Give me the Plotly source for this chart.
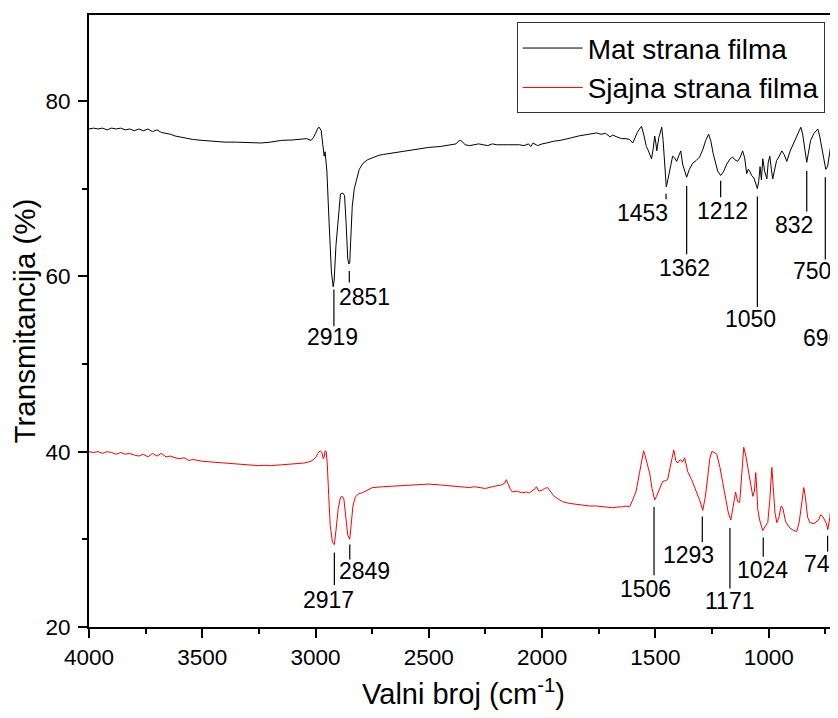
import plotly.graph_objects as go

# ---------------- data ----------------
mat_wn = [4000, 3980, 3960, 3940, 3920, 3900, 3880, 3860, 3840, 3820, 3800, 3780, 3760, 3740, 3720, 3700,
          3680, 3660, 3640, 3620, 3600, 3580, 3560, 3540, 3500, 3450, 3400, 3350, 3300, 3270, 3240, 3200,
          3150, 3100, 3060, 3040, 3020, 3010, 3000, 2990, 2984, 2975, 2968, 2962, 2958, 2955, 2950, 2940,
          2930, 2922, 2918, 2910, 2900, 2890, 2880, 2872, 2865, 2858, 2853, 2849, 2845, 2838, 2829, 2818,
          2807, 2790, 2770, 2750, 2720, 2700, 2650, 2600, 2550, 2500, 2450, 2400, 2380, 2370, 2360, 2350,
          2340, 2320, 2300, 2280, 2260, 2240, 2220, 2200, 2150, 2100, 2080, 2060, 2050, 2040, 2020, 2000,
          1980, 1950, 1920, 1900, 1870, 1840, 1810, 1790, 1770, 1760, 1740, 1720, 1700, 1689, 1670, 1650,
          1630, 1614, 1600, 1590, 1580, 1570, 1561, 1550, 1540, 1534, 1525, 1517, 1510, 1503, 1498, 1494,
          1485, 1478, 1472, 1466, 1458, 1452, 1445, 1437, 1430, 1424, 1415, 1406, 1396, 1388, 1380, 1372,
          1362, 1350, 1335, 1320, 1305, 1290, 1278, 1265, 1255, 1245, 1235, 1225, 1212, 1200, 1185, 1170,
          1159, 1150, 1137, 1125, 1115, 1106, 1097, 1090, 1084, 1075, 1065, 1058, 1050, 1044, 1038, 1032,
          1026, 1018, 1008, 1002, 995, 988, 982, 975, 965, 955, 942, 932, 920, 905, 890, 875,
          858, 850, 840, 832, 825, 815, 800, 783, 775, 765, 755, 748, 740, 730, 721, 714,
          708, 704, 700, 696, 694]
mat_t = [76.8, 76.9, 76.8, 76.9, 76.7, 76.9, 76.8, 76.9, 76.7, 76.8, 76.6, 76.8, 76.6, 76.8, 76.5, 76.7,
         76.4, 76.3, 76.2, 76.0, 75.9, 75.8, 75.7, 75.6, 75.5, 75.4, 75.3, 75.3, 75.25, 75.3, 75.2, 75.3,
         75.5, 75.55, 75.6, 75.7, 75.5, 75.8, 76.3, 76.9, 77.0, 76.6, 75.0, 73.7, 74.2, 73.5, 72.0, 66.0,
         60.5, 58.8, 59.5, 63.5, 67.0, 69.4, 69.5, 69.2, 66.0, 62.0, 61.4, 61.6, 64.0, 68.0, 70.0, 71.3,
         72.2, 72.9, 73.3, 73.5, 73.8, 73.9, 74.1, 74.3, 74.5, 74.7, 74.8, 75.0, 75.1, 75.4, 75.5, 75.3,
         75.0, 74.9, 75.0, 75.1, 75.0, 74.9, 75.1, 75.0, 75.0, 75.0, 74.9, 75.1, 74.8, 75.2, 74.9, 75.1,
         75.2, 75.4, 75.5, 75.6, 75.8, 76.0, 76.1, 76.2, 76.3, 76.35, 76.2, 76.3, 75.9, 76.1, 75.9, 75.7,
         75.7, 75.6, 75.2, 75.9, 76.4, 76.8, 77.1, 76.0, 74.8, 74.5, 74.0, 73.4, 74.5, 76.0, 75.2, 74.3,
         75.8, 76.6, 77.0, 75.5, 71.8, 70.2, 71.0, 72.2, 73.0, 73.7, 73.5, 73.1, 73.8, 74.3, 72.8, 72.0,
         71.3, 72.2, 72.9, 73.2, 73.6, 74.5, 75.5, 76.2, 75.4, 74.0, 72.8, 72.0, 71.5, 71.9, 72.8, 73.4,
         73.6, 73.3, 73.1, 73.6, 74.3, 73.5, 71.7, 72.2, 72.0, 71.5, 71.2, 70.6, 70.0, 70.8, 72.5, 71.0,
         73.4, 72.0, 71.1, 73.0, 73.7, 72.2, 71.1, 72.0, 73.2, 73.6, 74.3, 73.9, 73.1, 74.3, 75.2, 76.0,
         77.0, 76.2, 74.5, 73.0, 74.0, 75.5, 76.3, 76.8, 76.0, 74.5, 73.0, 72.2, 72.5, 74.2, 75.7, 77.0,
         78.5, 74.0, 65.0, 61.0, 61.0]

sjaj_wn = [4000, 3980, 3960, 3940, 3920, 3900, 3880, 3860, 3840, 3820, 3800, 3780, 3760, 3740, 3720, 3700,
           3680, 3660, 3640, 3620, 3600, 3580, 3560, 3540, 3500, 3450, 3400, 3350, 3300, 3250, 3227, 3200,
           3150, 3100, 3050, 3020, 3000, 2990, 2980, 2972, 2966, 2962, 2958, 2953, 2948, 2942, 2935, 2925,
           2917, 2910, 2900, 2890, 2882, 2875, 2868, 2858, 2849, 2843, 2835, 2825, 2810, 2794, 2770, 2749,
           2700, 2644, 2600, 2550, 2500, 2450, 2400, 2370, 2351, 2320, 2300, 2277, 2250, 2220, 2202, 2180,
           2165, 2158, 2150, 2140, 2131, 2110, 2090, 2070, 2056, 2040, 2030, 2025, 2015, 2000, 1990, 1976,
           1965, 1950, 1930, 1910, 1880, 1850, 1820, 1790, 1760, 1730, 1700, 1689, 1660, 1645, 1630, 1614,
           1600, 1585, 1570, 1560, 1552, 1545, 1534, 1525, 1515, 1503, 1495, 1481, 1468, 1456, 1446, 1435,
           1425, 1419, 1410, 1402, 1390, 1380, 1371, 1357, 1340, 1320, 1305, 1291, 1280, 1269, 1260, 1251,
           1240, 1229, 1215, 1203, 1190, 1178, 1167, 1158, 1146, 1137, 1128, 1120, 1110, 1100, 1092, 1080,
           1070, 1063, 1057, 1052, 1048, 1040, 1032, 1026, 1015, 1004, 995, 986, 980, 972, 964, 955,
           945, 938, 925, 907, 890, 876, 865, 852, 845, 838, 828, 818, 800, 780, 770, 761,
           750, 745, 739, 730, 720, 710, 699, 694]
sjaj_t = [40.0, 39.9, 40.0, 39.8, 40.0, 39.9, 39.7, 39.9, 39.7, 39.8, 39.6, 39.5, 39.7, 39.4, 39.8, 39.5,
          39.8, 39.4, 39.5, 39.3, 39.2, 39.3, 39.0, 39.1, 38.9, 38.8, 38.7, 38.6, 38.5, 38.4, 38.45, 38.4,
          38.5, 38.6, 38.7, 38.9, 39.3, 39.8, 40.1, 39.9, 39.2, 39.4, 40.1, 40.0, 38.5, 35.0, 31.5, 29.6,
          29.4, 31.0, 33.5, 34.8, 34.9, 34.6, 33.0, 30.5, 30.0, 31.5, 33.8, 34.8, 35.2, 35.3, 35.6, 35.9,
          36.0, 36.1, 36.1, 36.2, 36.3, 36.2, 36.1, 36.0, 36.0, 35.9, 36.0, 35.9, 35.8, 36.0, 36.1, 36.2,
          36.4, 36.8, 36.3, 35.7, 35.4, 35.5, 35.3, 35.4, 35.3, 35.6, 35.8, 36.0, 35.5, 35.6, 35.8, 35.9,
          35.5, 35.0, 34.6, 34.3, 34.1, 34.0, 33.9, 33.8, 33.8, 33.7, 33.6, 33.6, 33.7, 33.7, 33.8, 33.7,
          34.5, 35.5, 37.6, 39.2, 40.1, 39.5, 38.2, 37.5, 35.8, 34.5, 34.9, 35.7, 36.6, 36.7, 36.8, 38.2,
          39.5, 40.2, 39.0, 38.7, 39.1, 38.8, 39.3, 37.7, 36.8, 35.5, 34.5, 33.3, 34.8, 37.1, 39.2, 40.0,
          39.9, 39.7, 38.2, 36.5, 34.6, 33.0, 32.2, 33.8, 35.4, 34.3, 34.2, 37.0, 40.5, 39.4, 38.3, 36.5,
          34.9, 35.5, 37.6, 35.5, 33.4, 32.2, 31.5, 31.0, 31.5, 31.9, 34.5, 38.2, 36.0, 33.0, 31.9, 32.5,
          33.8, 33.6, 32.0, 31.3, 31.0, 30.9, 32.0, 35.0, 35.9, 34.8, 32.5, 31.9, 31.8, 32.2, 32.8, 32.6,
          32.0, 31.8, 31.1, 32.5, 35.0, 38.5, 41.4, 41.6]

mat_peaks = [2919, 2851, 1453, 1362, 1212, 1050, 832, 750, 696]
sjaj_peaks = [2917, 2849, 1506, 1293, 1171, 1024, 740]

x_ticks = [4000, 3500, 3000, 2500, 2000, 1500, 1000]
y_ticks = [20, 40, 60, 80]

# ---------------- label placement (layout only) ----------------
# (line top T, line bottom T, text centre T, horizontal text shift px)
mat_place = [(58.5, 54.3, 53.1, -1), (60.6, 59.3, 57.6, 15), (69.4, 68.8, 67.2, -24),
             (70.3, 62.5, 61.0, -2), (70.9, 69.0, 67.4, 2), (69.1, 56.5, 55.1, -7),
             (72.0, 67.4, 65.9, -13), (71.3, 61.9, 60.6, -13), (60.8, 55.1, 53.0, -16)]
sjaj_place = [(28.5, 24.8, 23.1, -6), (29.4, 27.7, 26.4, 15), (33.7, 25.9, 24.3, -9),
              (32.6, 29.7, 28.2, -14), (31.3, 24.4, 23.0, 0), (30.2, 28.0, 26.5, -1),
              (30.4, 28.6, 27.2, -5)]

FONT = "Liberation Sans, Arial, sans-serif"

fig = go.Figure()
fig.add_trace(go.Scatter(x=mat_wn, y=mat_t, mode="lines", name="Mat strana filma",
                         line=dict(color="#000000", width=1)))
fig.add_trace(go.Scatter(x=sjaj_wn, y=sjaj_t, mode="lines", name="Sjajna strana filma",
                         line=dict(color="#ff0000", width=1)))

annotations = []
shapes = []
for peaks, place in ((mat_peaks, mat_place), (sjaj_peaks, sjaj_place)):
    for wn, (y0, y1, yt, dx) in zip(peaks, place):
        shapes.append(dict(type="line", xref="x", yref="y", x0=wn, x1=wn, y0=y0, y1=y1,
                           line=dict(color="#000000", width=1.2)))
        annotations.append(dict(x=wn, y=yt, xref="x", yref="y", text=str(wn), showarrow=False,
                                xshift=dx, xanchor="center", yanchor="middle",
                                font=dict(family=FONT, size=23, color="#000000")))

# the page body adds an 8px offset, so the figure is 830x702 and margins are reduced by 8
fig.update_layout(
    width=830, height=702,
    margin=dict(l=81, r=0, t=7, b=83, autoexpand=False),
    paper_bgcolor="white", plot_bgcolor="white",
    font=dict(family=FONT, color="#000000"),
    showlegend=True,
    legend=dict(x=0.571, y=0.988, xanchor="left", yanchor="top",
                bgcolor="white", bordercolor="#333333", borderwidth=1,
                font=dict(family=FONT, size=28, color="#000000"),
                itemwidth=60, tracegroupgap=0),
    shapes=shapes, annotations=annotations,
)
fig.update_xaxes(
    range=[4000, 694], tickvals=x_ticks, ticktext=[str(v) for v in x_ticks],
    showline=True, linecolor="#000000", linewidth=2, mirror=True,
    ticks="outside", ticklen=9, tickwidth=2, tickcolor="#000000",
    minor=dict(ticks="outside", ticklen=5, tickwidth=2, tickcolor="#000000", dtick=250, tick0=0),
    showgrid=False, zeroline=False, automargin=False,
    tickfont=dict(family=FONT, size=22.5, color="#000000"),
    title=dict(text="Valni broj (cm<sup>-1</sup>)", font=dict(family=FONT, size=29, color="#000000"),
               standoff=22),
)
fig.update_yaxes(
    range=[20, 89.8], tickvals=y_ticks, ticktext=[str(v) for v in y_ticks],
    showline=True, linecolor="#000000", linewidth=2, mirror=False,
    ticks="outside", ticklen=9, tickwidth=2, tickcolor="#000000", ticklabelstandoff=3,
    minor=dict(ticks="outside", ticklen=5, tickwidth=2, tickcolor="#000000", dtick=10, tick0=0),
    showgrid=False, zeroline=False, automargin=False,
    tickfont=dict(family=FONT, size=22.5, color="#000000"),
    title=dict(text="Transmitancija (%)", font=dict(family=FONT, size=29.5, color="#000000"),
               standoff=5),
)

fig.write_html("out.html")
